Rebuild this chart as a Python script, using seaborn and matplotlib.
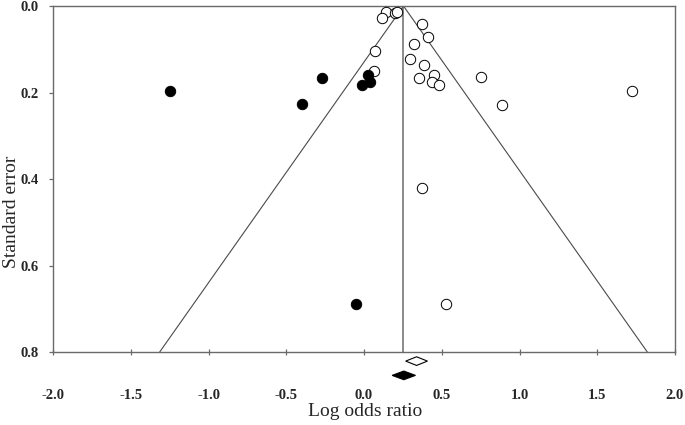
import matplotlib
matplotlib.use("Agg")
import matplotlib.pyplot as plt
import seaborn as sns
import pandas as pd
import numpy as np

# Observed studies (open circles)
obs_lor = [0.139, 0.115, 0.201, 0.213, 0.372, 0.410, 0.321, 0.073, 0.299, 0.385,
           0.453, 0.351, 0.438, 0.485, 0.066, 0.750, 0.890, 1.725, 0.370, 0.530]
obs_se = [0.015, 0.028, 0.016, 0.013, 0.042, 0.072, 0.089, 0.104, 0.123, 0.136,
          0.160, 0.166, 0.175, 0.183, 0.150, 0.164, 0.228, 0.196, 0.420, 0.689]
# Imputed studies (filled circles, trim and fill)
imp_lor = [0.026, 0.037, -0.010, -0.273, -0.401, -1.245, -0.053]
imp_se = [0.160, 0.175, 0.183, 0.166, 0.227, 0.197, 0.689]

pooled = 0.254            # funnel centre
se_max = 0.8
# summary diamonds: estimate, lower, upper, vertical position
obs_est, obs_lo, obs_hi, obs_row = 0.338, 0.268, 0.408, 0.821
adj_est, adj_lo, adj_hi, adj_row = 0.256, 0.181, 0.331, 0.854

xticks = [-2.0, -1.5, -1.0, -0.5, 0.0, 0.5, 1.0, 1.5, 2.0]
yticks = [0.0, 0.2, 0.4, 0.6, 0.8]

sns.set_style("white")
plt.rcParams["font.family"] = ["Liberation Serif", "DejaVu Serif"]

df = pd.DataFrame({
    "lor": obs_lor + imp_lor,
    "se": obs_se + imp_se,
    "kind": ["Observed"] * len(obs_lor) + ["Imputed"] * len(imp_lor),
})

fig = plt.figure(figsize=(6.85, 4.25), dpi=100)
ax = fig.add_axes([53 / 685, 1 - 382.3 / 425, 622 / 685, (382.3 - 6) / 425])

gray = "#6a6a6a"
# funnel
ax.plot([pooled, pooled], [0, se_max], color="#8a8a8a", lw=1.4, zorder=1)
ax.plot([pooled - 1.96 * se_max, pooled, pooled + 1.96 * se_max],
        [se_max, 0, se_max], color="#4a4a4a", lw=0.8, zorder=1)

sns.scatterplot(data=df[df.kind == "Observed"], x="lor", y="se", ax=ax,
                s=56, facecolor="white", edgecolor="black", linewidth=0.7,
                zorder=3, legend=False)
sns.scatterplot(data=df[df.kind == "Imputed"], x="lor", y="se", ax=ax,
                s=56, color="black", edgecolor="black", linewidth=0.7,
                zorder=3, legend=False)

# diamonds
dh = 0.010
ax.fill([obs_lo, obs_est, obs_hi, obs_est], [obs_row, obs_row - dh, obs_row, obs_row + dh],
        facecolor="white", edgecolor="black", lw=0.8, zorder=3, clip_on=False)
ax.fill([adj_lo, adj_est, adj_hi, adj_est], [adj_row, adj_row - dh, adj_row, adj_row + dh],
        facecolor="black", edgecolor="black", lw=0.8, zorder=3, clip_on=False)

ax.set_xlim(-2.0, 2.0)
ax.set_ylim(0.87, 0.0)
ax.set_xticks(xticks)
ax.set_xticklabels([f"{v:.1f}" for v in xticks])
ax.set_yticks(yticks)
ax.set_yticklabels([f"{v:.1f}" for v in yticks])

for side in ["left", "right", "top", "bottom"]:
    ax.spines[side].set_color(gray)
    ax.spines[side].set_linewidth(1.0)
    ax.spines[side].set_visible(True)
ax.spines["bottom"].set_position(("data", 0.8))
ax.spines["left"].set_bounds(0, 0.8)
ax.spines["right"].set_bounds(0, 0.8)

ax.tick_params(axis="x", direction="inout", length=5, width=0.9, color=gray,
               pad=24, labelsize=10.5, bottom=True)
ax.tick_params(axis="y", direction="out", length=3, width=0.9, color=gray,
               pad=7, labelsize=10.5, left=True)
for lab in ax.get_xticklabels() + ax.get_yticklabels():
    lab.set_fontweight("bold")

ax.set_xlabel("")
ax.set_ylabel("")
fig.text(365 / 685, 1 - 411 / 425, "Log odds ratio", ha="center", va="center", fontsize=14)
fig.text(12 / 685, 1 - 212 / 425, "Standard error", ha="center", va="center",
         rotation=90, fontsize=14)

fig.savefig("out.png", dpi=100)
